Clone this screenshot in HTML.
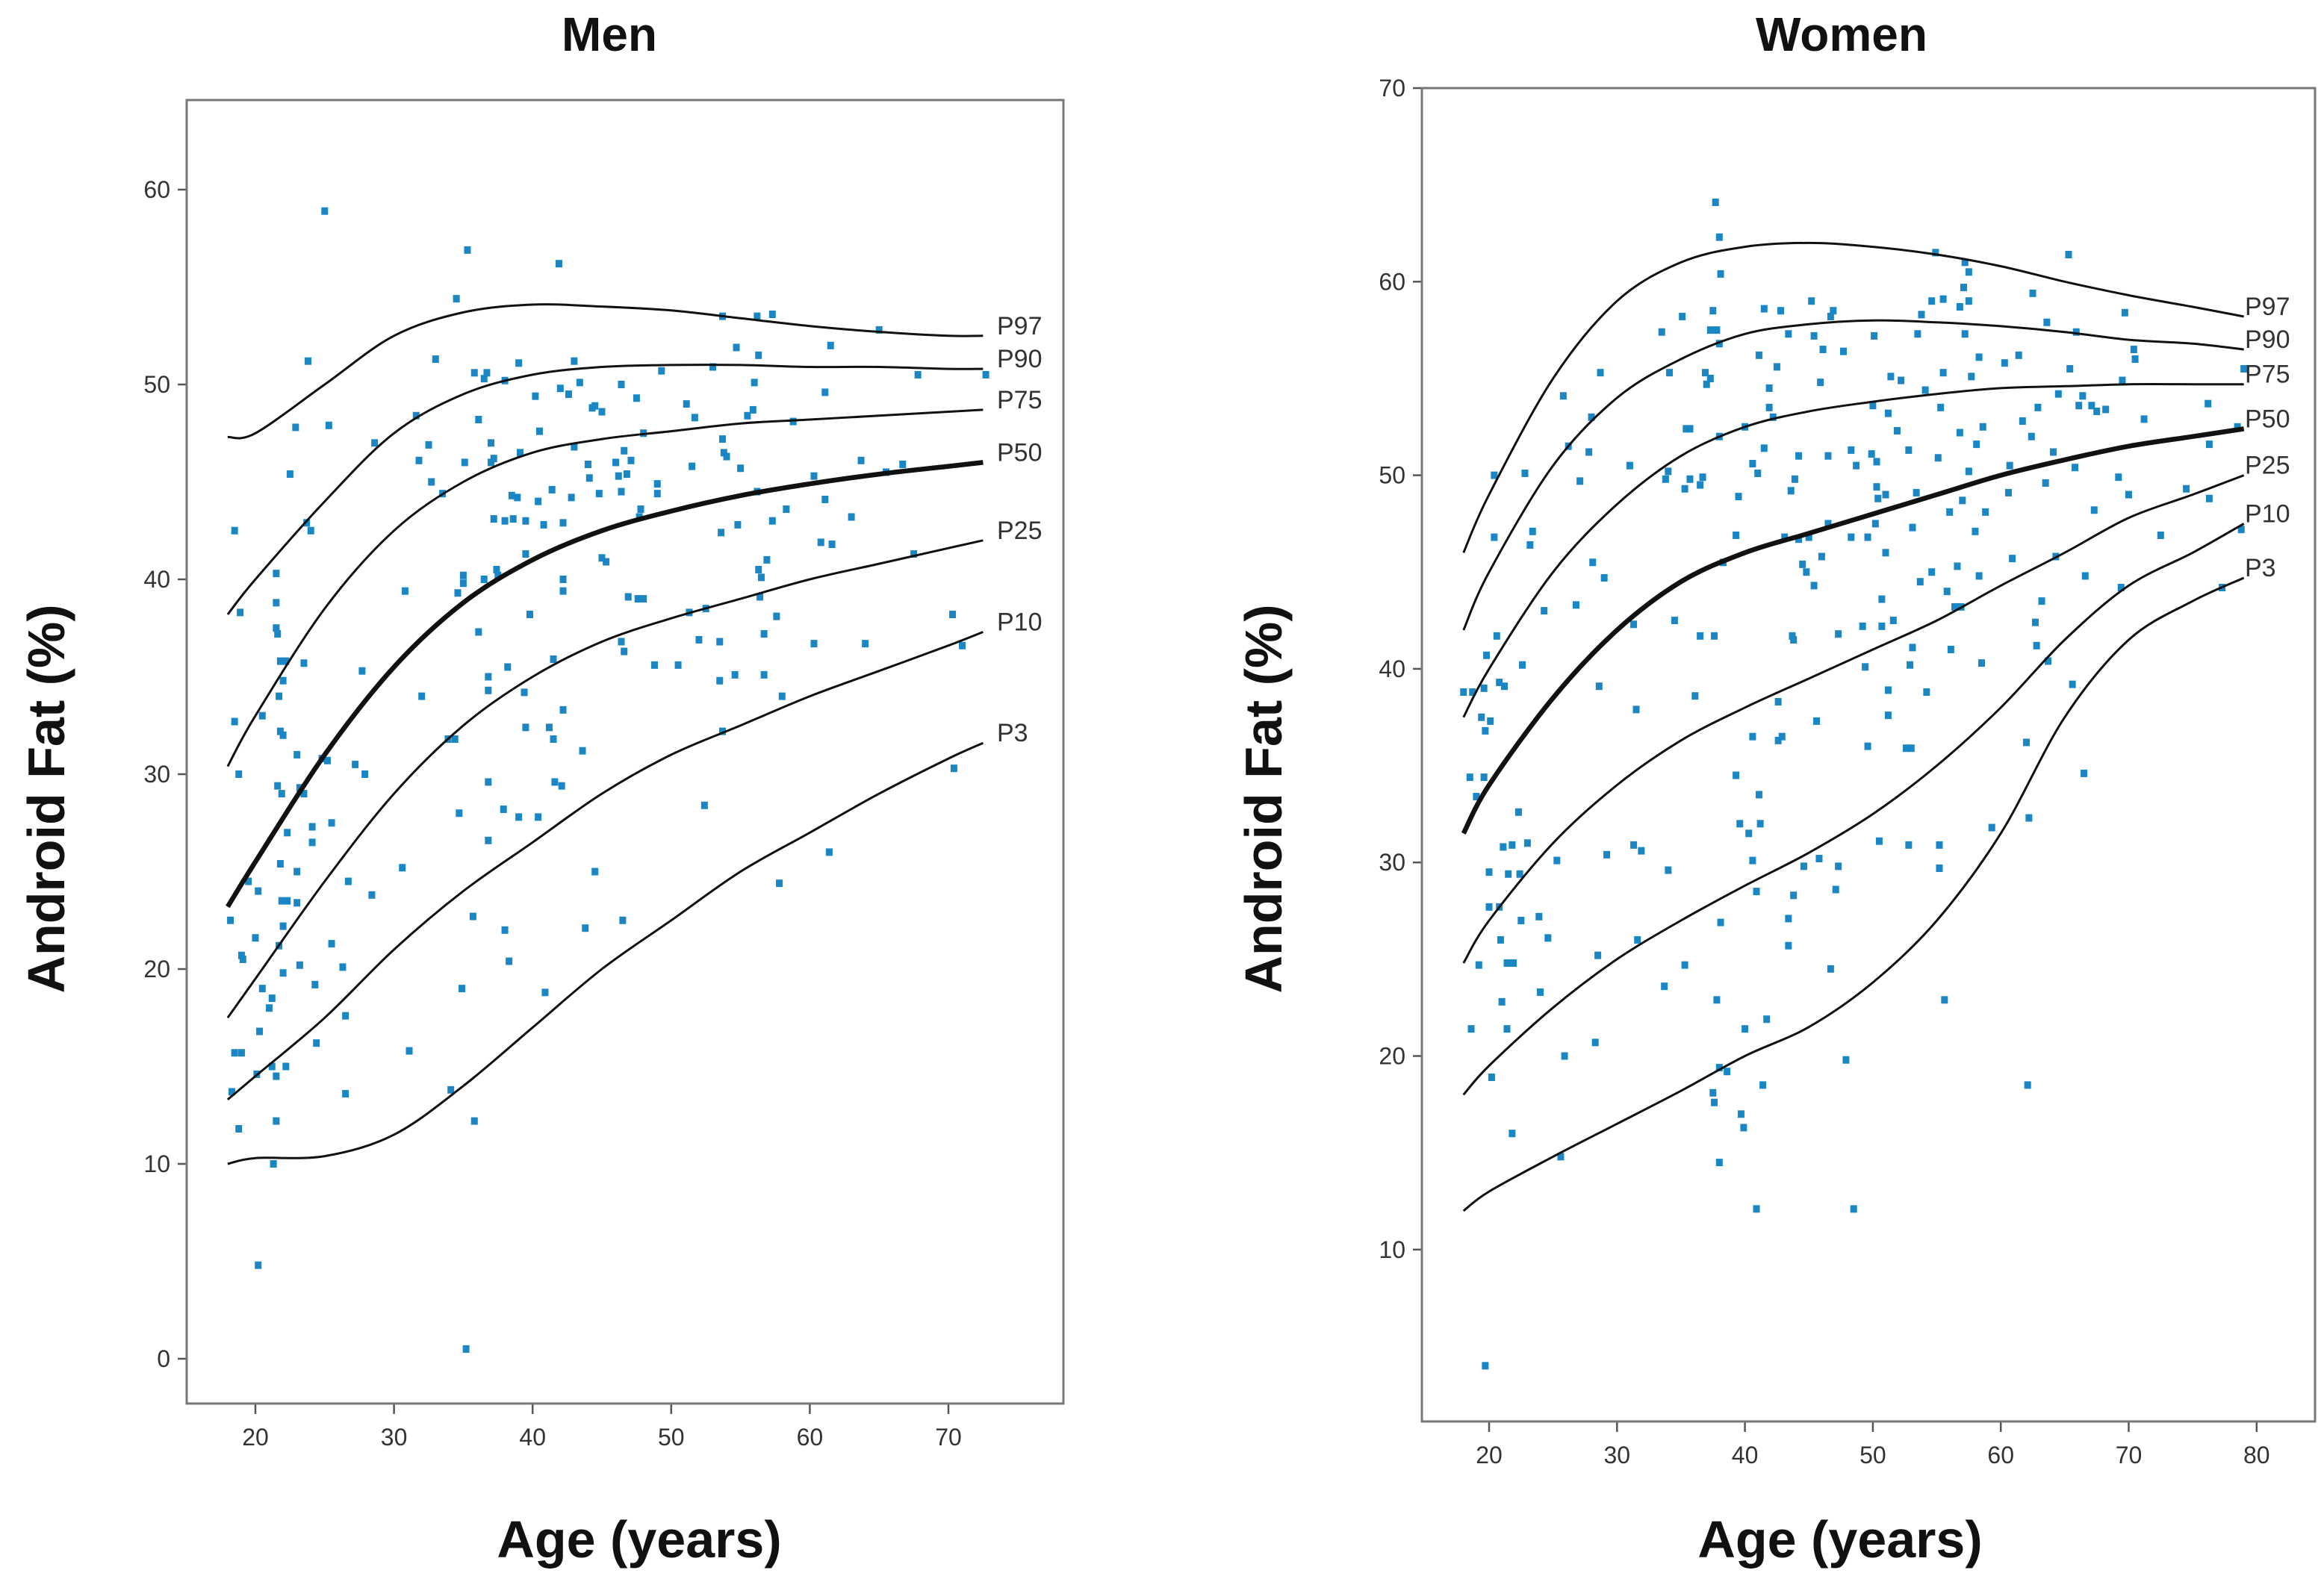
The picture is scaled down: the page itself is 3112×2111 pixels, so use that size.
<!DOCTYPE html>
<html><head><meta charset="utf-8"><style>
html,body{margin:0;padding:0;background:#fff;}
svg{display:block;font-family:"Liberation Sans",sans-serif;}
</style></head><body>
<svg id="chart" width="3112" height="2111" viewBox="0 0 3112 2111" xmlns="http://www.w3.org/2000/svg"></svg>
<script>
const menAges=[18,20,25,30,35,40,45,50,55,60,65,70,72.5];
const menP97=[47.3,47.5,50,52.5,53.7,54.1,54,53.8,53.4,53,52.7,52.5,52.5];
const menP90=[38.2,40,44,47.5,49.5,50.5,50.9,51,51,50.9,50.9,50.8,50.8];
const menP75=[30.4,33,38.5,42.5,45,46.5,47.2,47.6,48,48.2,48.4,48.6,48.7];
const menP50=[23.2,25.5,31,35.5,38.8,41,42.5,43.5,44.3,44.9,45.4,45.8,46];
const menP25=[17.5,19.5,24.5,29,32.5,35,36.8,38,39,40,40.8,41.6,42];
const menP10=[13.3,14.5,17.5,21,24,26.5,29,31,32.5,34,35.3,36.6,37.3];
const menP3=[10,10.3,10.4,11.5,14,17,20,22.5,25,27,29,30.8,31.6];
const womenAges=[18,20,25,30,35,40,45,50,55,60,65,70,75,79];
const womenP97=[46,49,55,59,61,61.8,62,61.8,61.4,60.8,60,59.3,58.7,58.2];
const womenP90=[42,45,50.5,54,56,57.3,57.8,58,57.9,57.7,57.4,57,56.8,56.5];
const womenP75=[37.5,40,45,48.5,51,52.5,53.3,53.8,54.2,54.5,54.6,54.7,54.7,54.7];
const womenP50=[31.5,34,38.5,42,44.5,46,47,48,49,50,50.8,51.5,52,52.4];
const womenP25=[24.8,27,31,34,36.3,38,39.5,41,42.5,44.3,46,47.8,49,50];
const womenP10=[18,19.5,22.5,25,27,28.8,30.5,32.5,35,38,41.5,44.3,46,47.5];
const womenP3=[12,13,14.8,16.5,18.2,20,21.5,23.8,27,31.5,37.5,41.5,43.5,44.7];
const percentileNames=["P97","P90","P75","P50","P25","P10","P3"];
const menXTicks=[20,30,40,50,60,70];
const menYTicks=[0,10,20,30,40,50,60];
const womenXTicks=[20,30,40,50,60,70,80];
const womenYTicks=[10,20,30,40,50,60,70];
const menPoints=[[18.2,22.5],[18.5,42.5],[18.5,32.7],[18.8,30],[18.3,13.7],[18.5,15.7],[19,15.7],[18.8,11.8],[19,20.7],[19.1,20.5],[18.9,38.3],[19.5,24.5],[20,21.6],[20.2,24],[20.5,19],[20.3,16.8],[20.1,14.6],[20.2,4.8],[20.5,33],[21,18],[21.2,18.5],[21.2,15],[21.5,14.5],[21.5,12.2],[21.3,10],[21.5,40.3],[21.5,38.8],[21.5,37.5],[21.6,37.2],[21.8,35.8],[22.2,35.8],[21.7,34],[22,34.8],[21.8,32.2],[22,32],[21.6,29.4],[21.9,29],[22.3,27],[21.8,25.4],[21.9,23.5],[22.3,23.5],[22,22.2],[21.7,21.2],[22,19.8],[22.2,15],[22.5,45.4],[22.9,47.8],[23,31],[23.2,29.3],[23.5,29],[23,25],[23,23.4],[23.2,20.2],[23.7,42.9],[24,42.5],[23.8,51.2],[23.5,35.7],[24.1,27.3],[24.1,26.5],[24.3,19.2],[24.4,16.2],[24.8,30.8],[25.2,30.7],[25,58.9],[25.3,47.9],[25.5,27.5],[25.5,21.3],[26.3,20.1],[26.5,17.6],[26.5,13.6],[26.7,24.5],[27.2,30.5],[27.7,35.3],[27.9,30],[28.4,23.8],[28.6,47],[30.6,25.2],[30.8,39.4],[31.1,15.8],[31.6,48.4],[31.8,46.1],[32,34],[32.5,46.9],[32.7,45],[33,51.3],[33.5,44.4],[33.9,31.8],[34.1,13.8],[34.4,31.8],[34.6,39.3],[34.5,54.4],[34.7,28],[34.9,19],[35,39.8],[35,40.2],[35.1,46],[35.2,0.5],[35.3,56.9],[35.8,12.2],[35.7,22.7],[35.8,50.6],[36.1,37.3],[36.1,48.2],[36.5,50.3],[36.7,50.6],[36.5,40],[36.8,34.3],[36.8,35],[36.8,26.6],[36.8,29.6],[37,46],[37.2,46.2],[37,47],[37.2,43.1],[37.4,40.5],[37.5,40.2],[37.9,28.2],[38,22],[38,43],[38,50.2],[38.2,35.5],[38.5,44.3],[38.3,20.4],[38.6,43.1],[38.9,44.2],[39,27.8],[39,51.1],[39.1,46.5],[39.4,34.2],[39.5,32.4],[39.5,41.3],[39.5,43],[39.8,38.2],[40.2,49.4],[40.4,44],[40.4,27.8],[40.5,47.6],[40.8,42.8],[40.9,18.8],[41.2,32.4],[41.5,31.8],[41.4,44.6],[41.5,35.9],[41.6,29.6],[41.9,56.2],[42,49.8],[42.1,29.4],[42.2,39.4],[42.2,40],[42.2,33.3],[42.2,42.9],[42.6,49.5],[42.8,44.2],[43,46.8],[43,51.2],[43.4,50.1],[43.6,31.2],[43.8,22.1],[44,45.9],[44.1,45.2],[44.3,48.8],[44.5,48.9],[44.5,25],[44.8,44.4],[45,48.6],[45,41.1],[45.3,40.9],[46,46],[46.2,45.3],[46.4,36.8],[46.4,44.5],[46.4,50],[46.5,22.5],[46.6,36.3],[46.6,46.6],[46.8,45.4],[46.9,39.1],[47.1,46.1],[47.5,49.3],[47.6,39],[47.7,43.2],[47.8,43.6],[48,47.5],[48,39],[48.8,35.6],[49,44.4],[49,44.9],[49.3,50.7],[50.5,35.6],[51.1,49],[51.3,38.3],[51.5,45.8],[51.7,48.3],[52,36.9],[52.4,28.4],[52.5,38.5],[53,50.9],[53.5,36.8],[53.5,34.8],[53.6,42.4],[53.7,32.2],[53.7,53.5],[53.7,47.2],[53.8,46.5],[54,46.3],[54.6,35.1],[54.7,51.9],[54.8,42.8],[55,45.7],[55.5,48.4],[55.9,48.7],[56,50.1],[56.2,53.5],[56.3,51.5],[56.2,44.5],[56.3,40.5],[56.4,39.1],[56.5,40.1],[56.7,35.1],[56.7,37.2],[56.9,41],[57.3,43],[57.3,53.6],[57.6,38.1],[57.8,24.4],[58,34],[58.3,43.6],[58.8,48.1],[60.3,45.3],[60.3,36.7],[60.8,41.9],[61.1,44.1],[61.1,49.6],[61.4,26],[61.5,52],[61.6,41.8],[63,43.2],[63.7,46.1],[64,36.7],[65,52.8],[65.5,45.5],[66.7,45.9],[67.5,41.3],[67.8,50.5],[70.3,38.2],[70.4,30.3],[71,36.6],[72.7,50.5]];
const womenPoints=[[18,38.8],[18.5,34.4],[18.6,21.4],[18.7,38.8],[19,33.4],[19.2,24.7],[19.4,37.5],[19.6,34.4],[19.6,39],[19.7,36.8],[19.8,40.7],[20,29.5],[20,27.7],[20.1,37.3],[20.2,18.9],[20.4,50],[20.4,46.8],[20.6,41.7],[20.8,39.3],[20.8,27.7],[20.9,26],[21,22.8],[21.1,30.8],[21.2,39.1],[21.4,21.4],[21.4,24.8],[21.5,29.4],[21.8,16],[21.8,30.9],[21.9,24.8],[22.3,32.6],[22.4,29.4],[22.5,27],[22.6,40.2],[22.8,50.1],[23,31],[23.2,46.4],[23.4,47.1],[23.9,27.2],[24,23.3],[24.3,43],[24.6,26.1],[25.3,30.1],[25.6,14.8],[25.8,54.1],[25.9,20],[26.2,51.5],[26.8,43.3],[27.1,49.7],[27.8,51.2],[28,53],[28.1,45.5],[28.3,20.7],[28.5,25.2],[28.6,39.1],[28.7,55.3],[29,44.7],[29.2,30.4],[31,50.5],[31.3,30.9],[31.3,42.3],[31.5,37.9],[31.6,26],[31.9,30.6],[33.5,57.4],[33.7,23.6],[33.8,49.8],[34,50.2],[34,29.6],[34.1,55.3],[34.5,42.5],[35.1,58.2],[35.3,24.7],[35.3,49.3],[35.4,52.4],[35.7,52.4],[35.7,49.8],[36.1,38.6],[36.5,49.5],[36.5,41.7],[36.7,49.9],[36.9,55.3],[37,54.7],[37.3,57.5],[37.3,55],[37.5,58.5],[37.5,18.1],[37.6,17.6],[37.6,41.7],[37.7,64.1],[37.8,57.5],[37.8,22.9],[38,62.3],[38,56.8],[38,52],[38,19.4],[38,14.5],[38.1,60.4],[38.1,26.9],[38.3,45.5],[38.6,19.2],[39.3,46.9],[39.3,34.5],[39.5,48.9],[39.6,32],[39.7,17],[39.9,16.3],[40,52.5],[40,21.4],[40.3,31.5],[40.6,36.5],[40.6,50.6],[40.6,30.1],[40.9,28.5],[40.9,12.1],[41,50.1],[41.1,56.2],[41.1,33.5],[41.2,32],[41.4,18.5],[41.5,58.6],[41.5,51.4],[41.7,21.9],[41.9,54.5],[41.9,53.5],[42.2,53],[42.5,55.6],[42.6,38.3],[42.6,36.3],[42.8,58.5],[42.9,36.5],[43.1,46.8],[43.4,57.3],[43.4,27.1],[43.4,25.7],[43.6,49.2],[43.7,41.7],[43.8,41.5],[43.8,28.3],[43.9,49.8],[44.2,51],[44.2,46.7],[44.5,45.4],[44.6,29.8],[44.8,45],[45,46.8],[45.2,59],[45.4,57.2],[45.4,44.3],[45.6,37.3],[45.8,30.2],[45.9,54.8],[46,45.8],[46.1,56.5],[46.5,51],[46.5,47.5],[46.7,58.2],[46.7,24.5],[46.9,58.5],[47.1,28.6],[47.3,29.8],[47.3,41.8],[47.7,56.4],[47.9,19.8],[48.3,46.8],[48.3,51.3],[48.5,12.1],[48.7,50.5],[49.2,42.2],[49.4,40.1],[49.6,46.8],[49.6,36],[49.9,51.1],[50,53.6],[50.1,57.2],[50.2,47.5],[50.3,50.7],[50.3,49.4],[50.4,48.8],[50.5,31.1],[50.7,42.2],[50.7,43.6],[51,49],[51,46],[51.2,38.9],[51.2,37.6],[51.2,53.2],[51.4,55.1],[51.6,42.5],[51.9,52.3],[52.2,54.9],[52.6,35.9],[52.8,51.3],[52.8,30.9],[52.9,40.2],[53,35.9],[53.1,41.1],[53.1,47.3],[53.4,49.1],[53.5,57.3],[53.7,44.5],[53.8,58.3],[54.1,54.4],[54.2,38.8],[54.6,45],[54.6,59],[54.9,61.5],[55.1,50.9],[55.2,30.9],[55.2,29.7],[55.3,53.5],[55.5,55.3],[55.5,59.1],[55.6,22.9],[55.8,44],[56,48.1],[56.1,41],[56.4,43.2],[56.6,45.3],[56.8,52.2],[56.8,58.7],[56.9,43.2],[57,48.7],[57.1,59.7],[57.2,61],[57.2,57.3],[57.5,59],[57.5,60.5],[57.5,50.2],[57.7,55.1],[58,47.1],[58.1,51.6],[58.3,56.1],[58.3,44.8],[58.5,40.3],[58.6,52.5],[58.8,48.1],[59.3,31.8],[60.3,55.8],[60.6,49.1],[60.7,50.5],[60.9,45.7],[61.4,56.2],[61.7,52.8],[62,36.2],[62.1,18.5],[62.2,32.3],[62.4,52],[62.5,59.4],[62.7,42.4],[62.8,41.2],[62.9,53.5],[63.2,43.5],[63.5,49.6],[63.6,57.9],[63.7,40.4],[64.1,51.2],[64.3,45.8],[64.5,54.2],[65.3,61.4],[65.4,55.5],[65.6,39.2],[65.8,50.4],[65.9,57.4],[66.1,53.6],[66.4,54.1],[66.5,34.6],[66.6,44.8],[67.1,53.6],[67.3,48.2],[67.5,53.3],[68.2,53.4],[69.2,49.9],[69.4,44.2],[69.5,54.9],[69.7,58.4],[70,49],[70.4,56.5],[70.5,56],[71.2,52.9],[72.5,46.9],[74.5,49.3],[76.2,53.7],[76.3,51.6],[76.3,48.8],[77.3,44.2],[78.5,52.5],[78.8,47.2],[79,55.5],[19.7,4]];

const NS="http://www.w3.org/2000/svg";
const svg=document.getElementById('chart');
function mk(tag,attrs,parent){const e=document.createElementNS(NS,tag);for(const k in attrs)e.setAttribute(k,attrs[k]);(parent||svg).appendChild(e);return e;}
function pathFrom(pts){
  let d="M"+pts[0][0]+","+pts[0][1];
  for(let i=0;i<pts.length-1;i++){
    const p0=pts[Math.max(0,i-1)],p1=pts[i],p2=pts[i+1],p3=pts[Math.min(pts.length-1,i+2)];
    const c1x=p1[0]+(p2[0]-p0[0])/6,c1y=p1[1]+(p2[1]-p0[1])/6;
    const c2x=p2[0]-(p3[0]-p1[0])/6,c2y=p2[1]-(p3[1]-p1[1])/6;
    d+=" C"+c1x.toFixed(1)+","+c1y.toFixed(1)+" "+c2x.toFixed(1)+","+c2y.toFixed(1)+" "+p2[0].toFixed(1)+","+p2[1].toFixed(1);
  }
  return d;
}
function panel(cfg){
  const g=mk('g',{});
  
  
  const X=v=>cfg.x0px+(v-cfg.x0v)*cfg.xs;
  const Y=v=>cfg.y0px-(v-cfg.y0v)*cfg.ys;
  const t=mk('text',{x:cfg.titleX,y:68,'font-size':64,'font-weight':'bold','text-anchor':'middle',fill:'#111'},g);
  t.textContent=cfg.title;
  
  
  cfg.xTicks.forEach(v=>{
    const l=mk('line',{x1:X(v),x2:X(v),y1:cfg.box[3],y2:cfg.box[3]+14,stroke:'#555','stroke-width':2.5},g);
    
    
    const tx=mk('text',{x:X(v),y:cfg.box[3]+56,'font-size':32,'text-anchor':'middle',fill:'#333'},g);
    tx.textContent=v;
    
    
  });
  cfg.yTicks.forEach(v=>{
    const l=mk('line',{x1:cfg.box[0]-12,x2:cfg.box[0],y1:Y(v),y2:Y(v),stroke:'#555','stroke-width':2.5},g);
    
    
    const tx=mk('text',{x:cfg.box[0]-22,y:Y(v)+11,'font-size':32,'text-anchor':'end',fill:'#333'},g);
    tx.textContent=v;
    
    
  });
  cfg.points.forEach(p=>{
    const r=mk('rect',{x:X(p[0])-4.5,y:Y(p[1])-5,width:9,height:10,fill:'#1a86c4'},g);
    
    
  });
  cfg.curves.forEach((c,i)=>{
    const pts=cfg.ages.map((a,j)=>[X(a),Y(c[j])]);
    const p=mk('path',{d:pathFrom(pts),fill:'none',stroke:'#111','stroke-width':percentileNames[i]==='P50'?6.5:3},g);
    
    
    const last=pts[pts.length-1];
    const lb=mk('text',{x:cfg.labelX,y:last[1]-2,'font-size':34,fill:'#333'},g);
    lb.textContent=percentileNames[i];
    
    
  });
  const b=mk('rect',{x:cfg.box[0],y:cfg.box[1],width:cfg.box[2]-cfg.box[0],height:cfg.box[3]-cfg.box[1],fill:'none',stroke:'#777','stroke-width':3},g);
  
  
  const xl=mk('text',{x:cfg.xLabelX,y:2086,'font-size':70,'font-weight':'bold','text-anchor':'middle',fill:'#111'},g);
  xl.textContent='Age (years)';
  
  
  const yl=mk('text',{x:0,y:0,'font-size':70,'font-weight':'bold','text-anchor':'middle',fill:'#111',transform:'translate('+cfg.yLabelX+',1070) rotate(-90)'},g);
  yl.textContent='Android Fat (%)';
  
  
}
panel({name:'men',title:'Men',titleX:816,box:[250,134,1424,1880],x0v:20,x0px:342,xs:18.56,y0v:0,y0px:1820,ys:26.1,
  xTicks:menXTicks,yTicks:menYTicks,points:menPoints,ages:menAges,
  curves:[menP97,menP90,menP75,menP50,menP25,menP10,menP3],labelX:1335,xLabelX:856,yLabelX:86});
panel({name:'women',title:'Women',titleX:2466,box:[1904,118,3100,1904],x0v:20,x0px:1994,xs:17.13,y0v:70,y0px:118,ys:25.93,
  xTicks:womenXTicks,yTicks:womenYTicks,points:womenPoints,ages:womenAges,
  curves:[womenP97,womenP90,womenP75,womenP50,womenP25,womenP10,womenP3],labelX:3006,xLabelX:2464,yLabelX:1716});
</script>
</body></html>
